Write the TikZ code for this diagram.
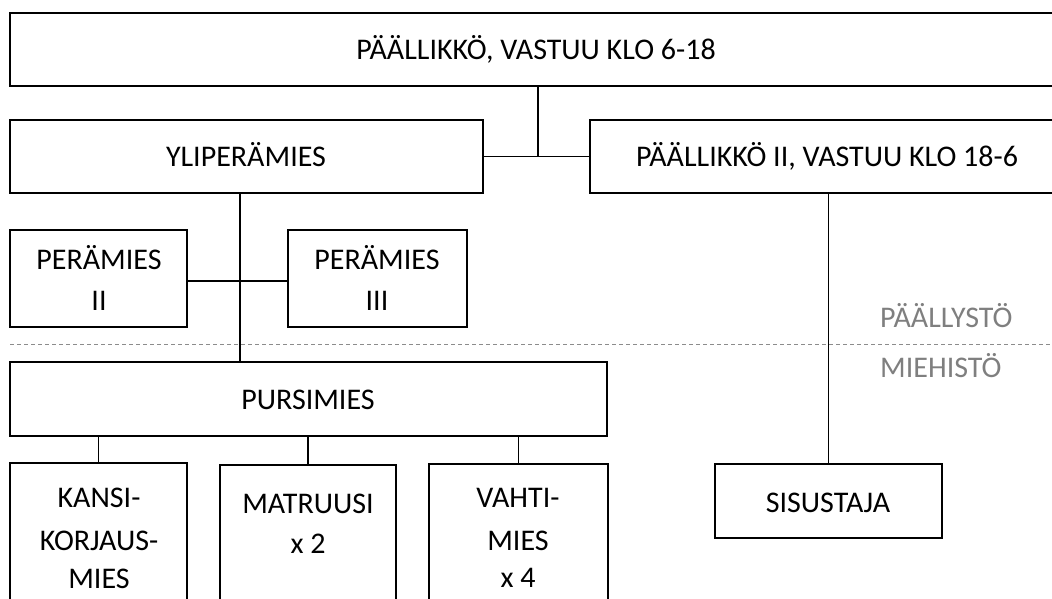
\documentclass[tikz,border=0pt]{standalone}
\usepackage{fontspec}
\setmainfont{Carlito}
\definecolor{sepgray}{HTML}{8C8C8C}
\definecolor{labgray}{HTML}{7F7F7F}
\begin{document}
\begin{tikzpicture}[x=1pt,y=-1pt,
  box/.style={draw=black,line width=1.5pt,rectangle,inner sep=0pt},
  conn/.style={draw=black,line width=1.3pt},
  txt/.style={anchor=base,inner sep=0pt,font=\fontsize{30}{41}\selectfont},
  gtxt/.style={anchor=base west,inner sep=0pt,text=labgray,font=\fontsize{30}{41}\selectfont},
  sep/.style={draw=sepgray,line width=0.9pt,dash pattern=on 4pt off 3pt}]
\useasboundingbox (0,0) rectangle (1052,599);
\clip (0,0) rectangle (1052,599);
% boxes
\node[box,minimum width=1054pt,minimum height=73pt] (top) at (537,49.5) {};
\node[box,minimum width=473pt,minimum height=73pt] (yli) at (246.5,156.5) {};
\node[box,minimum width=474pt,minimum height=73pt] (pal2) at (827,156.5) {};
\node[box,minimum width=177pt,minimum height=97pt] (per2) at (98.5,278.5) {};
\node[box,minimum width=179pt,minimum height=97pt] (per3) at (377.5,278.5) {};
\node[box,minimum width=597pt,minimum height=74pt] (purs) at (308.5,399) {};
\node[box,minimum width=177pt,minimum height=160pt] (kansi) at (98.5,543) {};
\node[box,minimum width=176pt,minimum height=160pt] (matr) at (308,545) {};
\node[box,minimum width=179pt,minimum height=160pt] (vahti) at (518.5,544) {};
\node[box,minimum width=227pt,minimum height=74pt] (sis) at (828.5,501) {};
% junctions
\coordinate (j1) at (538,157);
\coordinate (j2) at (240,281);
\coordinate (d1) at (10,344);
\coordinate (d2) at (1060,344);
% separator
\draw[sep] (d1) -- (d2);
% connectors
\draw[conn] (top.south -| j1) -- (j1);
\draw[conn] (yli.east) -- (pal2.west);
\draw[conn] (yli.south -| j2) -- (purs.north -| j2);
\draw[conn] (per2.east |- j2) -- (per3.west |- j2);
\draw[conn] (pal2.south -| sis.north) -- (sis.north);
\draw[conn] (purs.south -| kansi.north) -- (kansi.north);
\draw[conn] (purs.south -| matr.north) -- (matr.north);
\draw[conn] (purs.south -| vahti.north) -- (vahti.north);
% texts
\node[txt] (ttop) at (536,60) {PÄÄLLIKKÖ, VASTUU KLO 6-18};
\node[txt] (tyli) at (246,167) {YLIPERÄMIES};
\node[txt] (tpal2) at (827,167) {PÄÄLLIKKÖ II, VASTUU KLO 18-6};
\node[txt] (tper2a) at (99,269) {PERÄMIES};
\node[txt] (tper2b) at (99,310) {II};
\node[txt] (tper3a) at (377,269) {PERÄMIES};
\node[txt] (tper3b) at (377,310) {III};
\node[txt] (tpurs) at (308,409) {PURSIMIES};
\node[txt] (tkansia) at (99,507) {KANSI-};
\node[txt] (tkansib) at (99,550) {KORJAUS-};
\node[txt] (tkansic) at (99,588) {MIES};
\node[txt] (tmatra) at (308,513) {MATRUUSI};
\node[txt] (tmatrb) at (308,553) {x 2};
\node[txt] (tvahtia) at (518,507) {VAHTI-};
\node[txt] (tvahtib) at (518,550) {MIES};
\node[txt] (tvahtic) at (518,587) {x 4};
\node[txt] (tsis) at (828,512) {SISUSTAJA};
\node[gtxt] (tpaally) at (880,327) {PÄÄLLYSTÖ};
\node[gtxt] (tmieh) at (880,377) {MIEHISTÖ};
\end{tikzpicture}
\end{document}
